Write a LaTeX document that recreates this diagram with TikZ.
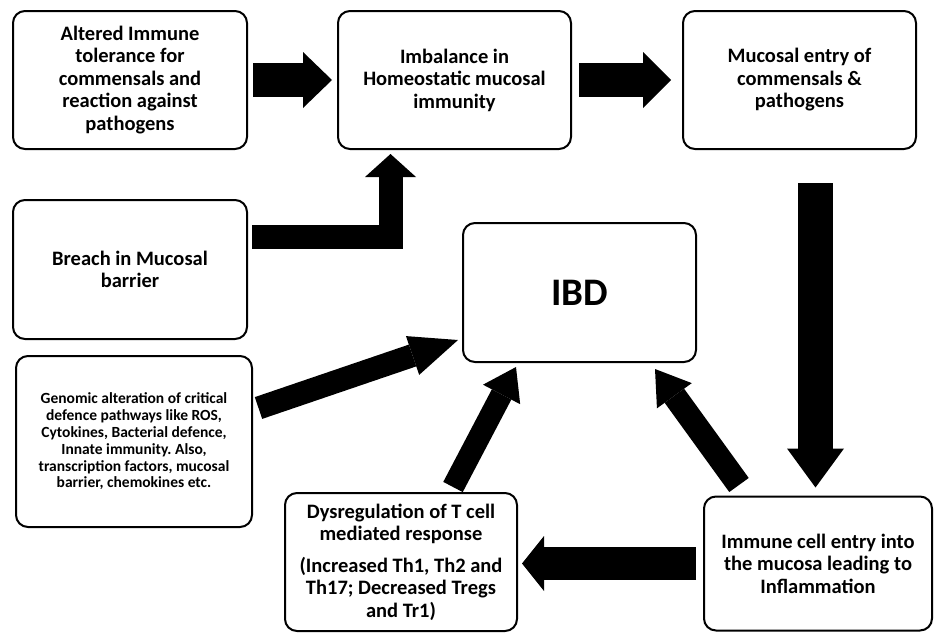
\documentclass[tikz,border=0pt]{standalone}
\usepackage{fontspec}
\setmainfont{Carlito}
\usetikzlibrary{arrows.meta}
\frenchspacing

\begin{document}
\begin{tikzpicture}[x=1pt,y=-1pt,
        box/.style={rectangle,rounded corners=12pt,draw=black,fill=white,line width=2pt,
          align=center,inner sep=4pt,font=\bfseries\fontsize{20.5}{22.5}\selectfont},
        blockarrow/.style n args={3}{draw=black,line width=#1,
          -{Triangle[length=#2,width=#3,line width=0pt]}}]
        \useasboundingbox (0,0) rectangle (934,632);
        \node[box,minimum width=234pt,minimum height=138pt] (alt) at (130,80)
          {Altered Immune\\tolerance for\\commensals and\\reaction against\\pathogens};
        \node[box,minimum width=233pt,minimum height=138pt] (imb) at (454.5,80)
          {Imbalance in\\Homeostatic mucosal\\immunity};
        \node[box,minimum width=233pt,minimum height=138pt] (muc) at (799.5,80)
          {Mucosal entry of\\commensals \&\\pathogens};
        \node[box,minimum width=234pt,minimum height=139pt] (breach) at (130,269.5)
          {Breach in Mucosal\\barrier};
        \node[box,minimum width=233pt,minimum height=139pt,
          font=\bfseries\fontsize{39}{42}\selectfont] (ibd) at (579.5,292.5) {IBD};
        \node[box,minimum width=236pt,minimum height=171pt,
          font=\bfseries\fontsize{15.5}{16.8}\selectfont] (gen) at (134,441.5)
          {Genomic alteration of critical\\defence pathways like ROS,\\Cytokines, Bacterial defence,\\Innate immunity. Also,\\transcription factors, mucosal\\barrier, chemokines etc.};
        \node[box,minimum width=232pt,minimum height=138pt] (dys) at (401,562)
          {Dysregulation of T cell\\mediated response\\[9pt](Increased Th1, Th2 and\\Th17; Decreased Tregs\\and Tr1)};
        \node[box,minimum width=228pt,minimum height=134pt] (imm) at (818,563.5)
          {Immune cell entry into\\the mucosa leading to\\Inflammation};
        \draw[blockarrow={34pt}{29pt}{56pt},shorten <=5pt,shorten >=5pt] (alt) -- (imb);
        \draw[blockarrow={34pt}{28pt}{56pt},shorten <=7pt,shorten >=11pt] (imb) -- (muc);
        \draw[blockarrow={24pt}{23pt}{51pt},shorten <=4pt]
          ([yshift=-38pt]breach.north east) -| ([xshift=53.5pt,yshift=-4pt]imb.south west);
        \draw[blockarrow={35pt}{39pt}{57pt},shorten <=33pt,shorten >=8pt]
          ([xshift=16pt]muc.south) -- ([xshift=-2.5pt]imm.north);
        \draw[blockarrow={33pt}{22pt}{55pt},shorten <=7pt,shorten >=4pt]
          (imm.west) -- (imm.west -| dys.east);
        \draw[blockarrow={23pt}{48pt}{41pt}]
          ([xshift=5.5pt,yshift=33.5pt]gen.east) -- ([xshift=-4pt,yshift=-47.5pt]ibd.west);
        \draw[blockarrow={22pt}{31pt}{42pt}]
          ([xshift=52pt,yshift=5pt]dys.north) -- ([xshift=-63.5pt,yshift=-4pt]ibd.south);
        \draw[blockarrow={24pt}{33pt}{43pt}]
          ([xshift=-79pt,yshift=10.5pt]imm.north) -- ([xshift=75.5pt,yshift=-6pt]ibd.south);
      \end{tikzpicture}
\end{document}
